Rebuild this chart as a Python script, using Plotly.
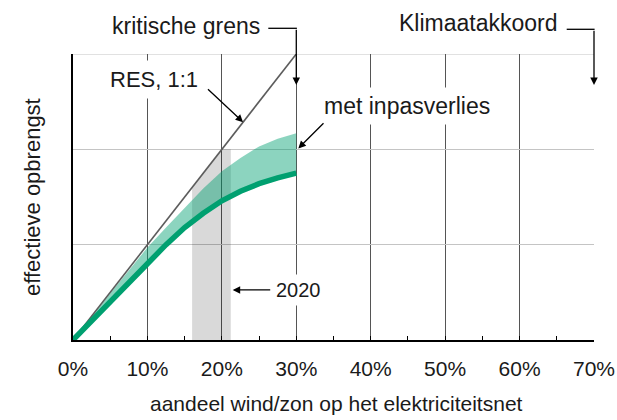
import plotly.graph_objects as go

# ---- data -------------------------------------------------------------
share = [0, 2.5, 5, 7.5, 10, 12.5, 15, 17.5, 20, 22.5, 25, 27.5, 30]
yield_low = [0, 1.95, 3.9, 6.0, 8.0, 10.0, 11.8, 13.3, 14.6, 15.6, 16.4, 17.0, 17.5]
yield_high = [0, 2.5, 4.9, 7.3, 9.7, 11.8, 13.9, 15.9, 17.7, 19.1, 20.3, 21.1, 21.7]
res_x = [0, 30]
res_y = [0, 30]
band2020_x = [16, 16, 20, 21.2, 21.2]
band2020_y = [0, 16, 20, 20, 0]
x_ticks = [0, 10, 20, 30, 40, 50, 60, 70]
x_ticklabels = ["0%", "10%", "20%", "30%", "40%", "50%", "60%", "70%"]
y_grid = [10, 20, 30]
kritische_grens = 30
klimaatakkoord = 70

# ---- style ------------------------------------------------------------
FONT = "Liberation Sans, Arial, Helvetica, sans-serif"
GREEN = "#00a070"
W, H = 617, 420
L, R, T, B = 73, 594, 54, 340   # plot-area edges in pixels


def px(xp):
    return (xp - L) / (R - L)


def py(yp):
    return (B - yp) / (B - T)


fig = go.Figure()

fig.add_trace(go.Scatter(
    x=band2020_x, y=band2020_y, fill="toself", mode="lines",
    line=dict(width=0), fillcolor="rgba(0,0,0,0.15)", hoverinfo="skip"))

fig.add_trace(go.Scatter(
    x=share + share[::-1], y=yield_high + yield_low[::-1], fill="toself",
    mode="lines", line=dict(width=0), fillcolor="rgba(0,160,112,0.45)",
    hoverinfo="skip"))

fig.add_trace(go.Scatter(
    x=res_x, y=res_y, mode="lines", line=dict(color="#5c5c5c", width=1.6)))

fig.add_trace(go.Scatter(
    x=share, y=yield_low, mode="lines", line=dict(color=GREEN, width=5.5)))

fig.update_layout(
    width=W, height=H,
    margin=dict(l=L, r=W - R, t=T, b=H - B),
    plot_bgcolor="white", paper_bgcolor="white",
    showlegend=False,
    font=dict(family=FONT, color="#1a1a1a"),
    xaxis=dict(
        range=[0, 70], tickmode="array", tickvals=x_ticks, ticktext=x_ticklabels,
        showgrid=True, gridcolor="#555555", gridwidth=1,
        showline=True, linecolor="black", linewidth=2,
        ticks="inside", ticklen=4, tickwidth=1, tickcolor="black",
        minor=dict(tickmode="linear", tick0=0, dtick=5, ticks="inside",
                   ticklen=4, tickwidth=1, tickcolor="black", showgrid=False),
        tickfont=dict(size=21, color="#1a1a1a"), ticklabelstandoff=9,
        zeroline=False, fixedrange=True, automargin=False,
    ),
    yaxis=dict(
        range=[0, 30], tickmode="array", tickvals=y_grid, showticklabels=False,
        showgrid=True, gridcolor="#c4c4c4", gridwidth=1,
        showline=True, linecolor="black", linewidth=2.5, ticks="",
        zeroline=False, fixedrange=True, automargin=False,
    ),
)

ann = []
# axis titles
ann.append(dict(text="aandeel wind/zon op het elektriciteitsnet", xref="paper", yref="paper",
                x=px(336), y=py(403), xanchor="center", yanchor="middle",
                showarrow=False, font=dict(size=21)))
ann.append(dict(text="effectieve opbrengst", xref="paper", yref="paper",
                x=px(32), y=py(197), xanchor="center", yanchor="middle", textangle=-90,
                showarrow=False, font=dict(size=22)))
# labels
ann.append(dict(text="kritische grens", xref="paper", yref="paper",
                x=px(261), y=py(25.5), xanchor="right", yanchor="middle",
                showarrow=False, borderpad=0, font=dict(size=23)))
ann.append(dict(text="Klimaatakkoord", xref="paper", yref="paper",
                x=px(559), y=py(23), xanchor="right", yanchor="middle",
                showarrow=False, borderpad=0, font=dict(size=23)))
ann.append(dict(text="RES, 1:1", xref="paper", yref="paper",
                x=px(154), y=py(79.5), xanchor="center", yanchor="middle",
                showarrow=False, bgcolor="white", borderpad=6, font=dict(size=22)))
ann.append(dict(text="met inpasverlies", xref="paper", yref="paper",
                x=px(318), y=py(105.5), xanchor="left", yanchor="middle",
                showarrow=False, bgcolor="white", borderpad=5, font=dict(size=23)))
ann.append(dict(text="2020", xref="paper", yref="paper",
                x=px(271), y=py(289.5), xanchor="left", yanchor="middle",
                showarrow=False, bgcolor="white", borderpad=4, font=dict(size=20)))

arrow = dict(text="", showarrow=True, arrowhead=2, arrowsize=1.15, arrowwidth=1.3,
             arrowcolor="black", standoff=0, xref="x", yref="y")
ann.append(dict(arrow, x=22.85, y=22.85, ax=-36.6, ay=-34.4))
ann.append(dict(arrow, x=30.27, y=20.1, ax=26.7, ay=-26.6))
ann.append(dict(arrow, x=21.46, y=5.25, ax=39, ay=0))
ann.append(dict(arrow, x=kritische_grens, y=26.75, ax=0, ay=-56.7))
ann.append(dict(arrow, x=klimaatakkoord, y=26.75, ax=0, ay=-55.7))

fig.update_layout(annotations=ann)

shapes = [
    # top grid line at the edge of the plot area
    dict(type="line", xref="paper", yref="y", x0=0, x1=1, y0=y_grid[-1], y1=y_grid[-1],
         line=dict(color="#c4c4c4", width=1), layer="below"),
    dict(type="line", xref="paper", yref="paper", x0=px(268.3), x1=px(296.9),
         y0=py(28.3), y1=py(28.3), line=dict(color="black", width=1.3)),
    dict(type="line", xref="paper", yref="paper", x0=px(566.7), x1=px(594.6),
         y0=py(29.3), y1=py(29.3), line=dict(color="black", width=1.3)),
]
fig.update_layout(shapes=shapes)

fig.write_html(
    "out.html",
    config={"displayModeBar": False, "staticPlot": True},
    post_script="document.body.style.margin='0';document.body.style.overflow='hidden';",
)
